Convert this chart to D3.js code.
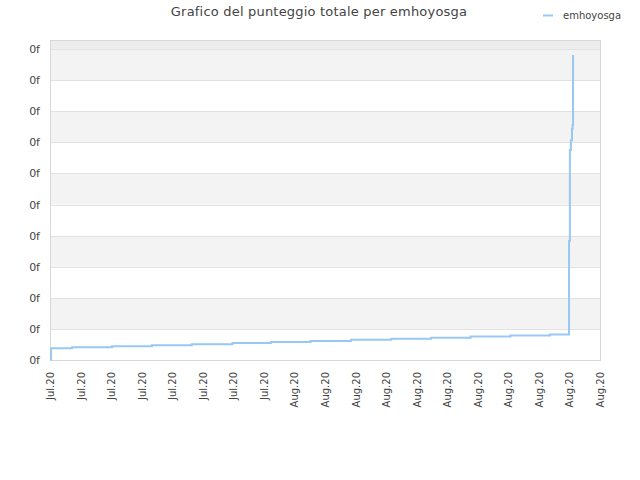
<!DOCTYPE html>
<html lang="it">
<head>
    <meta charset="utf-8" />
    <title>Grafico del punteggio totale per emhoyosga</title>
    <script src="https://d3js.org/d3.v7.min.js"></script>
    <style>
        body {
            margin: 0;
            padding: 0;
            background: #ffffff;
        }
        svg text {
            font-family: "DejaVu Sans", Verdana, sans-serif;
            fill: #444444;
        }
    </style>
</head>
<body>
<svg id="chart"></svg>
<script>
    var w = 640;
    var h = 480;
    var margin = {top: 40, right: 40, bottom: 120, left: 50};

    var title = "Grafico del punteggio totale per emhoyosga";
    var seriesName = "emhoyosga";

    // Timestamps of the score changes and the running total
    var times = [
        "2020-07-08 01:00", "2020-07-08 02:30", "2020-07-10 04:00", "2020-07-14 02:00",
        "2020-07-18 00:00", "2020-07-21 22:00", "2020-07-25 22:00", "2020-07-29 17:00",
        "2020-08-02 14:00", "2020-08-06 13:00", "2020-08-10 12:00", "2020-08-14 10:00",
        "2020-08-18 07:00", "2020-08-22 05:00", "2020-08-26 02:00", "2020-08-27 23:00",
        "2020-08-28 01:00", "2020-08-28 03:30", "2020-08-28 06:00", "2020-08-28 07:30",
        "2020-08-28 08:30"
    ];
    var scores = [
        0, 0.376, 0.412, 0.444, 0.476, 0.508, 0.543, 0.579, 0.614, 0.650,
        0.682, 0.717, 0.752, 0.788, 0.820, 3.83, 6.75, 7.07, 7.43, 7.56, 9.81
    ];

    // Axis ticks: every 3 days from Jul 8 to Aug 31, labels show month.year
    var xStart = "2020-07-08 00:00";
    var xEnd = "2020-08-31 00:00";
    var yTicks = [0, 1, 2, 3, 4, 5, 6, 7, 8, 9, 10];
    var yTickLabels = ["0f", "0f", "0f", "0f", "0f", "0f", "0f", "0f", "0f", "0f", "0f"];
    var yMax = 10.29;

    var parse = d3.timeParse("%Y-%m-%d %H:%M");
    var data = times.map(function(t, i) {
        return {date: parse(t), value: scores[i]};
    });

    var svg = d3.select("#chart")
                .attr("width", w)
                .attr("height", h);

    var xScale = d3.scaleTime()
                .domain([parse(xStart), parse(xEnd)])
                .range([margin.left, w - margin.right]);

    var yScale = d3.scaleLinear()
                .domain([0, yMax])
                .range([h - margin.bottom, margin.top]);

    var plotW = w - margin.left - margin.right;

    // Alternating background bands
    var bands = yTicks.concat([yMax]);
    svg.selectAll("rect.band")
        .data(d3.range(bands.length - 1))
        .enter().append("rect")
        .attr("class", "band")
        .attr("x", margin.left)
        .attr("width", plotW)
        .attr("y", function(i) { return yScale(bands[i + 1]); })
        .attr("height", function(i) { return yScale(bands[i]) - yScale(bands[i + 1]); })
        .attr("fill", function(i) {
            if (i === bands.length - 2) return "#ededed";
            return i % 2 === 1 ? "#f3f3f3" : "#ffffff";
        });

    // Horizontal grid lines
    svg.selectAll("line.grid")
        .data(yTicks)
        .enter().append("line")
        .attr("class", "grid")
        .attr("x1", margin.left)
        .attr("x2", w - margin.right)
        .attr("y1", function(d) { return Math.round(yScale(d)) + 0.5; })
        .attr("y2", function(d) { return Math.round(yScale(d)) + 0.5; })
        .attr("stroke", "#e2e2e2")
        .attr("stroke-width", 1);

    // Plot frame
    svg.append("rect")
        .attr("x", margin.left + 0.5)
        .attr("y", margin.top + 0.5)
        .attr("width", plotW)
        .attr("height", h - margin.top - margin.bottom)
        .attr("fill", "none")
        .attr("stroke", "#d8d8d8");

    // Y axis labels
    var yAxis = d3.axisLeft(yScale)
        .tickValues(yTicks)
        .tickSize(0)
        .tickPadding(10)
        .tickFormat(function(d, i) { return yTickLabels[i]; });

    svg.append("g")
        .attr("transform", "translate(" + margin.left + ",0)")
        .call(yAxis)
        .call(function(g) { g.select(".domain").remove(); })
        .selectAll("text")
        .attr("font-size", "11px")
        .attr("fill", "#444");

    // X axis labels, rotated
    var xTicks = d3.timeDay.range(parse(xStart), d3.timeDay.offset(parse(xEnd), 1), 3);
    var xAxis = d3.axisBottom(xScale)
        .tickValues(xTicks)
        .tickSize(0)
        .tickFormat(d3.timeFormat("%b.%y"));

    svg.append("g")
        .attr("transform", "translate(0," + (h - margin.bottom) + ")")
        .call(xAxis)
        .call(function(g) { g.select(".domain").remove(); })
        .selectAll("text")
        .attr("font-size", "10px")
        .attr("fill", "#444")
        .attr("text-anchor", "end")
        .attr("dy", "0.35em")
        .attr("transform", "translate(0,12) rotate(-90)")
        .attr("x", 0)
        .attr("y", 0);

    // Score line
    var line = d3.line()
        .x(function(d) { return xScale(d.date); })
        .y(function(d) { return yScale(d.value); })
        .curve(d3.curveStepAfter);

    svg.append("path")
        .datum(data)
        .attr("fill", "none")
        .attr("stroke", "#99c8f4")
        .attr("stroke-width", 2)
        .attr("d", line);

    // Title
    svg.append("text")
        .attr("x", 319)
        .attr("y", 16)
        .attr("text-anchor", "middle")
        .attr("font-size", "13px")
        .attr("letter-spacing", "0.2px")
        .attr("fill", "#4a4a4a")
        .text(title);

    // Legend
    svg.append("line")
        .attr("x1", 543)
        .attr("x2", 553)
        .attr("y1", 15.5)
        .attr("y2", 15.5)
        .attr("stroke", "#99c8f4")
        .attr("stroke-width", 2);

    svg.append("text")
        .attr("x", 563)
        .attr("y", 19)
        .attr("font-size", "10px")
        .attr("fill", "#333")
        .text(seriesName);
</script>
</body>
</html>
